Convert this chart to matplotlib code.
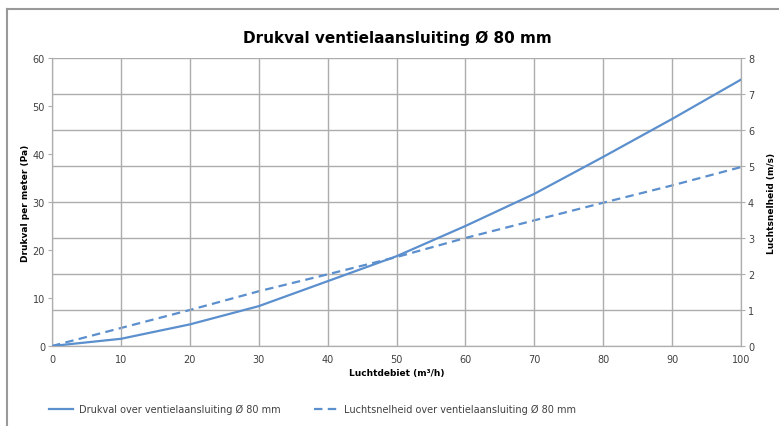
import matplotlib.pyplot as plt
from matplotlib.lines import Line2D

# Data
debiet = [0, 10, 20, 30, 40, 50, 60, 70, 80, 90, 100]          # m3/h
drukval = [0, 1.5, 4.5, 8.3, 13.5, 18.7, 25.0, 31.7, 39.4, 47.3, 55.5]  # Pa
snelheid = [0, 0.5, 1.0, 1.52, 1.99, 2.47, 3.0, 3.49, 3.98, 4.46, 4.97]  # m/s

label_druk = "Drukval over ventielaansluiting Ø 80 mm"
label_snel = "Luchtsnelheid over ventielaansluiting Ø 80 mm"

plt.rcParams['font.family'] = ['DejaVu Sans']

blue = '#5B8FCD'
grid_c = '#ADADAD'
txt_c = '#404040'

fig = plt.figure(figsize=(7.79, 4.27), dpi=100)
ax = fig.add_axes([52 / 779, 1 - 347 / 427, (741 - 52) / 779, (347 - 59) / 427])
ax2 = ax.twinx()

ax.plot(debiet, drukval, color=blue, lw=1.6, label=label_druk, zorder=3)
ax2.plot(debiet, snelheid, color=blue, lw=1.6, ls=(0, (3.8, 2.4)),
         label=label_snel, zorder=3)

ax.set_xlim(0, 100)
ax.set_ylim(0, 60)
ax2.set_ylim(0, 8)
ax.set_xticks(range(0, 101, 10))
ax.set_yticks(range(0, 61, 10))
ax2.set_yticks(range(0, 9))

# vertical grid from x axis, horizontal grid from right axis
ax.grid(axis='x', color=grid_c, lw=1)
ax2.grid(axis='y', color=grid_c, lw=1)
ax.set_axisbelow(True)
ax2.set_axisbelow(True)
ax.set_zorder(ax2.get_zorder() + 1)
ax.patch.set_visible(False)

for a in (ax, ax2):
    for s in a.spines.values():
        s.set_color(grid_c)
    a.spines['top'].set_visible(False)
    a.tick_params(labelsize=7, colors=txt_c, length=3, width=0.8, pad=2)
    a.tick_params(axis='both', color=grid_c)
ax.tick_params(axis='x', length=0, pad=6)

ax.set_xlabel("Luchtdebiet (m³/h)", fontsize=6.5, fontweight='bold', color='black', labelpad=3)
ax.set_ylabel("Drukval per meter (Pa)", fontsize=6.5, fontweight='bold', color='black', labelpad=2)
ax2.set_ylabel("Luchtsnelheid (m/s)", fontsize=6.5, fontweight='bold', color='black', labelpad=9)

fig.text(397 / 779, 1 - 38 / 427, "Drukval ventielaansluiting Ø 80 mm",
         ha='center', va='center', fontsize=11, fontweight='bold')

handles = [Line2D([], [], color=blue, lw=1.6),
           Line2D([], [], color=blue, lw=1.6, ls=(0, (3.8, 2.4)))]
fig.legend(handles, [label_druk, label_snel], loc='center left',
           bbox_to_anchor=(40 / 779, 1 - 410 / 427), ncol=2, frameon=False,
           fontsize=7, handlelength=2.5, handletextpad=0.6, columnspacing=3.4,
           labelcolor=txt_c)

# outer chart frame (cropped at right and bottom)
fig.add_artist(Line2D([7 / 779, 1], [1 - 10 / 427, 1 - 10 / 427], color='#999999', lw=1.5))
fig.add_artist(Line2D([7 / 779, 7 / 779], [0, 1 - 10 / 427], color='#999999', lw=1.5))

fig.savefig('out.png', dpi=100)
